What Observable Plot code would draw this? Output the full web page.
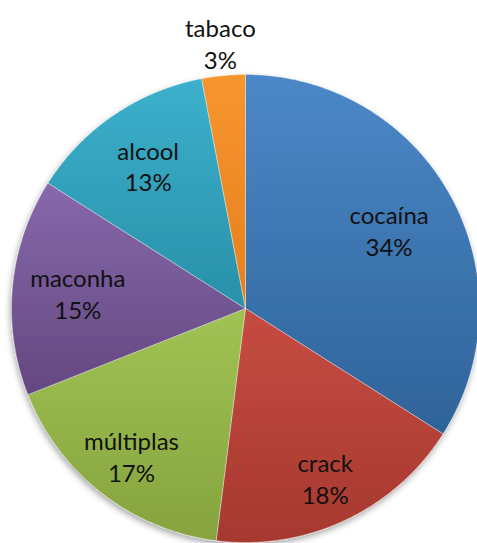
<!DOCTYPE html>
<html><head><meta charset="utf-8">
<script src="https://cdn.jsdelivr.net/npm/d3@7"></script>
<script src="https://cdn.jsdelivr.net/npm/@observablehq/plot@0.6"></script>
<style>body{margin:0;background:#fff}</style>
</head><body><div id="chart"></div>
<script>
// ---- data ----
const categories = ["cocaína", "crack", "múltiplas", "maconha", "alcool", "tabaco"];
const percents = [34, 18, 17, 15, 13, 3];

// ---- style / layout (kept separate from data) ----
const colorsTop    = ["#4C88C8", "#C64C42", "#A0C354", "#8768AB", "#3CB0CD", "#F7952F"];
const colorsBottom = ["#2E6399", "#A6382F", "#86A33E", "#634880", "#2990A8", "#E5801E"];
const labelRadius  = {"cocaína": 0.70, "crack": 0.80, "múltiplas": 0.795, "maconha": 0.72, "alcool": 0.74, "tabaco": 1.14};
const W = 477, H = 543, cx = 245, cy = 308, R = 234;

const arcs = d3.pie().sort(null).value(d => d)(percents);

// slice outlines in unit-circle coordinates
const rows = [];
arcs.forEach((a, i) => {
  const cat = categories[i];
  const fill = `url(#grad${i})`;
  rows.push({cat, fill, x: 0, y: 0});
  const n = Math.max(4, Math.ceil((a.endAngle - a.startAngle) / 0.01));
  for (let k = 0; k <= n; k++) {
    const t = a.startAngle + (a.endAngle - a.startAngle) * k / n;
    rows.push({cat, fill, x: Math.sin(t), y: Math.cos(t)});
  }
  rows.push({cat, fill, x: 0, y: 0});
});

const labels = arcs.map((a, i) => {
  const m = (a.startAngle + a.endAngle) / 2;
  const f = labelRadius[categories[i]];
  return {text: `${categories[i]}\n${percents[i]}%`, x: f * Math.sin(m), y: f * Math.cos(m)};
});

const chart = Plot.plot({
  width: W, height: H, margin: 0,
  x: {axis: null, domain: [-cx / R, (W - cx) / R]},
  y: {axis: null, domain: [(cy - H) / R, cy / R]},
  color: {type: "identity"},
  style: {background: "white"},
  marks: [
    Plot.line(rows, {x: "x", y: "y", z: "cat", fill: "fill", stroke: "#ffffff", strokeWidth: 0.6, strokeOpacity: 0.6, curve: "linear"}),
    Plot.text(labels, {x: "x", y: "y", text: "text", fontSize: 24, lineHeight: 1.33, fontFamily: "Lato", fill: "#111111"})
  ]
});

const svg = d3.select(chart);
const defs = svg.insert("defs", ":first-child");
colorsTop.forEach((c, i) => {
  const g = defs.append("linearGradient").attr("id", `grad${i}`).attr("x1", 0).attr("y1", 0).attr("x2", 0).attr("y2", 1);
  g.append("stop").attr("offset", "0%").attr("stop-color", c);
  g.append("stop").attr("offset", "100%").attr("stop-color", colorsBottom[i]);
});
const f = defs.append("filter").attr("id", "shadow").attr("x", "-10%").attr("y", "-10%").attr("width", "120%").attr("height", "120%");
f.append("feDropShadow").attr("dx", -1).attr("dy", 3).attr("stdDeviation", 3).attr("flood-color", "#000").attr("flood-opacity", 0.35);
svg.select('g[aria-label="line"]').attr("filter", "url(#shadow)");

document.getElementById("chart").append(chart);
</script>
</body></html>
